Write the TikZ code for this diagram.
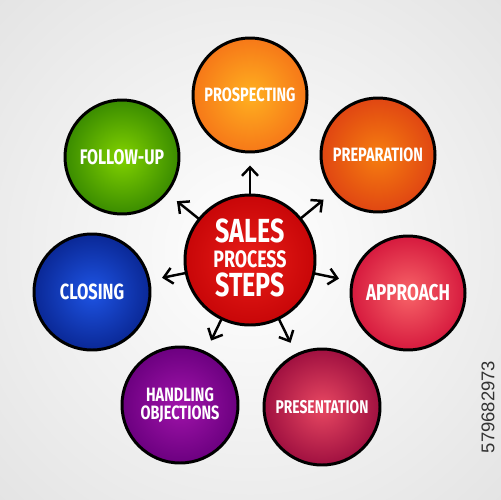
\documentclass[tikz,border=0pt]{standalone}
\usepackage{fontspec}
\setmainfont{Fira Sans}
\newfontfamily\hand[FakeStretch=0.75]{Fira Sans}
\newfontfamily\idfont{Liberation Sans}
\usetikzlibrary{arrows.meta}
\begin{document}
\begin{tikzpicture}[x=0.02cm,y=-0.02cm,
  bub/.style={circle, draw=black, line width=1.7pt, minimum size={2*#1*0.02cm}, inner sep=0pt,
              shading=radial, text=white, align=center},
  lbl/.style={font=\hand\bfseries\fontsize{#1}{#1}\selectfont},
  arr/.style={line width=1.4pt, -{Straight Barb[length=0.17cm,width=0.32cm,line width=1.4pt]},
              shorten >=0.24cm, shorten <=-0.02cm}]
\useasboundingbox (0,0) rectangle (500,500);
\fill[inner color=white, outer color=black!11] (-120,-120) rectangle (620,620);

% center
\node[bub=65, inner color={rgb,255:red,232;green,30;blue,24}, outer color={rgb,255:red,200;green,6;blue,8}] (c) at (250,260) {};
\node[text=white, align=center, inner sep=0pt, font=\hand\bfseries] (t) at (250,258)
  {\fontsize{19}{12}\selectfont SALES\\[2.5pt]\fontsize{13.5}{12}\selectfont PROCESS\\[2pt]\fontsize{19}{12}\selectfont STEPS};

% satellites
\node[bub=57, inner color={rgb,255:red,255;green,176;blue,32}, outer color={rgb,255:red,246;green,120;blue,24}, lbl=11] (p) at (250,95) {PROSPECTING};
\node[bub=57, inner color={rgb,255:red,246;green,126;blue,16}, outer color={rgb,255:red,224;green,70;blue,18}, lbl=11] (r) at (378,155) {PREPARATION};
\node[bub=57, inner color={rgb,255:red,248;green,100;blue,104}, outer color={rgb,255:red,214;green,26;blue,62}, lbl=13] (a) at (408,293) {APPROACH};
\node[bub=58, inner color={rgb,255:red,232;green,72;blue,98}, outer color={rgb,255:red,160;green,16;blue,64}, lbl=10.5] (s) at (322,407) {PRESENTATION};
\node[bub=58, inner color={rgb,255:red,160;green,20;blue,170}, outer color={rgb,255:red,108;green,0;blue,128}, lbl=11] (h) at (180,405) {HANDLING\\[-1pt]OBJECTIONS};
\node[bub=58, inner color={rgb,255:red,30;green,84;blue,228}, outer color={rgb,255:red,10;green,40;blue,150}, lbl=12.5] (cl) at (92,292) {CLOSING};
\node[bub=57, inner color={rgb,255:red,130;green,210;blue,0}, outer color={rgb,255:red,58;green,140;blue,0}, lbl=12] (f) at (122,157) {FOLLOW-UP};

% arrows
\draw[arr] (c) -- (p);
\draw[arr] (c) -- (r);
\draw[arr] (c) -- (a);
\draw[arr] (c) -- (s);
\draw[arr] (c) -- (h);
\draw[arr] (c) -- (cl);
\draw[arr] (c) -- (f);

% stock id
\node[font=\idfont\fontsize{10.5}{11}\selectfont, text=black!80, rotate=90] (id) at (488,407) {579682973};
\end{tikzpicture}
\end{document}
